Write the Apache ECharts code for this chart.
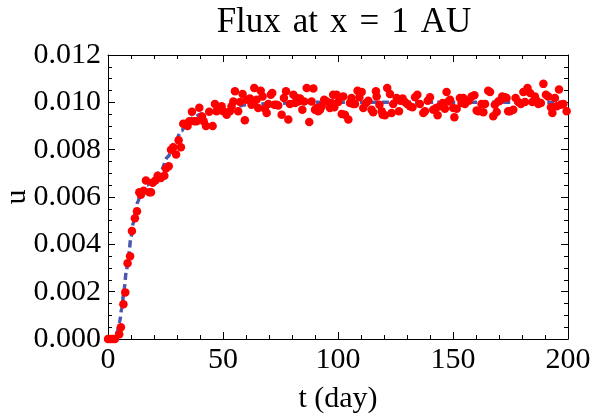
<!DOCTYPE html>
<html><head><meta charset="utf-8">
<script src="https://cdn.jsdelivr.net/npm/echarts@6/dist/echarts.min.js"></script>
<style>html,body{margin:0;padding:0;background:#fff}#c{width:603px;height:416px}</style>
</head><body><div id="c"></div>
<script>
const titleWords = ['Flux', 'at', 'x', '=', '1', 'AU'];
const xName = 't (day)';
const yName = 'u';
const xTicks = [0, 50, 100, 150, 200];
const yTicks = [0, 0.002, 0.004, 0.006, 0.008, 0.010, 0.012];

// dashed model curve
const curveT = [0, 2, 3, 4, 5, 6, 7, 8, 9, 10, 11, 12, 13, 14, 15, 17, 20, 23, 26, 29, 32, 34, 36, 38, 40, 45, 50, 55, 60, 70, 85, 200];
const curveU = [0, 0, 0.0001, 0.0003, 0.0007, 0.0013, 0.0021, 0.0029, 0.0036, 0.0043, 0.0049, 0.0054, 0.0058, 0.0061, 0.0063, 0.0065, 0.0068, 0.0071, 0.0077, 0.0083, 0.0088, 0.0091, 0.0093, 0.0094, 0.0095, 0.00958, 0.00966, 0.0098, 0.0099, 0.00994, 0.0100, 0.0100];

// measured points: rise
const riseT = [0, 1, 2, 3, 4.9, 5.6, 6.7, 7.5, 8.5, 9.6, 10.4, 11.7, 12.6, 13.6, 14.3, 15.5, 16.5, 18, 18.7, 19.4, 20.6, 21.6, 23, 24.5, 25.2, 26.4, 27.4, 28.4, 29.6, 30.7, 31.7, 32.7, 33.9, 34.6, 35.4, 36.5, 37.5, 38.5, 39.7, 40.9, 41.6, 42.6, 44, 45.5];
const riseU = [0, 0, 0, 0, 0.0002, 0.0005, 0.00147, 0.00197, 0.0032, 0.0035, 0.00456, 0.0051, 0.0054, 0.0062, 0.0061, 0.00626, 0.0067, 0.0062, 0.0062, 0.0066, 0.0067, 0.0069, 0.0068, 0.0069, 0.0072, 0.0073, 0.0080, 0.0081, 0.0078, 0.0084, 0.0081, 0.0091, 0.0091, 0.0090, 0.0092, 0.0096, 0.0092, 0.0092, 0.00977, 0.0094, 0.0092, 0.0090, 0.0096, 0.0090];

// plateau 46-99
const plateauAT = [46.5, 47.2, 49.4, 50.1, 51.6, 53.0, 53.7, 54.5, 55.2, 56.6, 57.4, 58.5, 59.5, 60.3, 61.7, 62.4, 63.6, 64.6, 65.3, 66.4, 67.2, 68.2, 69.0, 69.7, 70.8, 71.4, 72.3, 73.3, 74.0, 75.5, 76.5, 77.4, 78.4, 79.1, 80.6, 81.3, 82.0, 82.7, 83.5, 84.5, 85.3, 86.4, 87.5, 88.5, 89.3, 90.0, 90.7, 91.4, 92.2, 92.9, 94.0, 95.1, 96.5, 97.2, 97.9, 98.4];
const plateauAU = [0.00993, 0.00962, 0.00983, 0.00962, 0.00948, 0.00962, 0.00983, 0.01004, 0.01047, 0.00962, 0.01001, 0.01035, 0.00924, 0.01011, 0.01016, 0.00990, 0.01061, 0.01011, 0.00976, 0.01049, 0.01025, 0.00973, 0.00955, 0.00993, 0.01032, 0.01039, 0.00990, 0.00990, 0.00987, 0.00948, 0.01018, 0.01047, 0.00927, 0.00993, 0.01032, 0.00997, 0.01018, 0.01004, 0.01016, 0.00969, 0.01004, 0.01061, 0.00917, 0.01004, 0.01058, 0.00969, 0.00976, 0.00962, 0.00969, 0.00983, 0.01011, 0.01004, 0.00976, 0.00997, 0.01032, 0.00979];

// plateau 99-148
const plateauBT = [99.4, 100.1, 101.6, 102.3, 103.0, 104.5, 105.2, 105.9, 106.6, 107.4, 108.5, 109.3, 110.3, 111.0, 112.2, 113.2, 114.6, 115.3, 116.5, 116.8, 118.0, 119.0, 119.4, 120.4, 121.4, 122.6, 123.3, 124.0, 125.5, 126.5, 127.2, 128.1, 129.1, 130.1, 131.3, 132.4, 133.5, 134.5, 135.6, 137.1, 137.8, 139.0, 140.0, 141.4, 142.6, 143.3, 144.3, 145.5, 146.5, 147.2, 148.0];
const plateauBU = [0.01032, 0.01001, 0.00951, 0.01025, 0.00948, 0.00927, 0.00997, 0.01018, 0.00993, 0.00993, 0.01049, 0.01021, 0.01044, 0.00976, 0.00997, 0.01007, 0.00969, 0.00958, 0.01047, 0.01025, 0.00990, 0.00962, 0.00948, 0.00945, 0.01061, 0.01035, 0.00955, 0.00993, 0.01018, 0.00962, 0.01007, 0.01016, 0.01001, 0.00993, 0.00983, 0.00979, 0.01021, 0.01032, 0.00993, 0.00955, 0.00962, 0.01007, 0.01021, 0.00969, 0.00976, 0.00945, 0.00983, 0.00997, 0.00973, 0.01044, 0.01004];

// plateau 148-200
const plateauCT = [148.7, 150.1, 150.6, 151.6, 153.0, 153.7, 154.5, 155.2, 156.9, 158.1, 159.3, 160.3, 161.0, 162.4, 163.2, 163.9, 165.3, 166.1, 167.5, 168.2, 169.0, 169.7, 170.4, 171.4, 172.6, 173.3, 174.0, 174.8, 176.2, 177.2, 178.4, 179.5, 180.6, 181.3, 182.4, 183.5, 184.5, 185.6, 186.4, 187.1, 188.2, 189.3, 190.4, 191.4, 192.6, 193.2, 194.3, 195.1, 196.1, 196.9, 198.0, 199.4];
const plateauCU = [0.01011, 0.00976, 0.00937, 0.00973, 0.01018, 0.00997, 0.01018, 0.00993, 0.01007, 0.01025, 0.01030, 0.00965, 0.00962, 0.00993, 0.00958, 0.00993, 0.01049, 0.01044, 0.00941, 0.00990, 0.00959, 0.01004, 0.01007, 0.01025, 0.01021, 0.01018, 0.00962, 0.00962, 0.00969, 0.01018, 0.01001, 0.00993, 0.01044, 0.01001, 0.01061, 0.01039, 0.01001, 0.01025, 0.01007, 0.00993, 0.00997, 0.01078, 0.01032, 0.01025, 0.00979, 0.00955, 0.01018, 0.00983, 0.01054, 0.00990, 0.00993, 0.00962];

const zip = (a, b) => a.map((v, i) => [v, b[i]]);
const points = [].concat(zip(riseT, riseU), zip(plateauAT, plateauAU), zip(plateauBT, plateauBU), zip(plateauCT, plateauCU));
const curve = zip(curveT, curveU);

const FONT = 'Liberation Serif';
const axisCommon = {
  type: 'value',
  splitLine: { show: false },
  axisLine: { show: true, onZero: false, lineStyle: { color: '#000', width: 1 } },
  axisTick: { show: true, inside: true, length: 7, lineStyle: { color: '#000', width: 1 } },
  minorTick: { show: true, length: 4, lineStyle: { color: '#000', width: 1 } },
  minorSplitLine: { show: false }
};
function xAx(pos, labels) {
  return Object.assign({}, axisCommon, {
    position: pos, min: xTicks[0], max: xTicks[xTicks.length - 1], interval: xTicks[1] - xTicks[0],
    minorTick: Object.assign({}, axisCommon.minorTick, { splitNumber: 5 }),
    axisLabel: { show: labels, fontFamily: FONT, fontSize: 30, color: '#000', margin: 6 },
    name: labels ? xName : '', nameLocation: 'middle', nameGap: 45, nameMoveOverlap: false,
    nameTextStyle: { fontFamily: FONT, fontSize: 30, color: '#000' }
  });
}
function yAx(pos, labels) {
  return Object.assign({}, axisCommon, {
    position: pos, min: yTicks[0], max: yTicks[yTicks.length - 1], interval: yTicks[1] - yTicks[0],
    minorTick: Object.assign({}, axisCommon.minorTick, { splitNumber: 4 }),
    axisLabel: { show: labels, fontFamily: FONT, fontSize: 30, color: '#000', margin: 7, formatter: v => v.toFixed(3) },
    name: labels ? yName : '', nameLocation: 'middle', nameGap: 76, nameRotate: 90, nameMoveOverlap: false,
    nameTextStyle: { fontFamily: FONT, fontSize: 30, color: '#000' }
  });
}

const titleRich = titleWords.map(w => '{w|' + w + '}').join('{s| }');

const chart = echarts.init(document.getElementById('c'), null, { renderer: 'canvas' });
chart.setOption({
  animation: false,
  backgroundColor: '#fff',
  title: { text: titleRich, left: 339, textAlign: 'center', top: 0,
    textStyle: { fontFamily: FONT, fontSize: 35, fontWeight: 'normal', color: '#000',
      rich: { w: { fontFamily: FONT, fontSize: 35, color: '#000' }, s: { fontFamily: FONT, fontSize: 35, width: 12 } } } },
  grid: { left: 108, top: 55, width: 460, height: 284, containLabel: false, outerBoundsMode: 'none' },
  xAxis: [xAx('bottom', true), xAx('top', false)],
  yAxis: [yAx('left', true), yAx('right', false)],
  series: [
    { type: 'line', data: curve, showSymbol: false, smooth: 0.3, smoothMonotone: 'x',
      lineStyle: { color: '#4a58b0', width: 3.5, type: [7, 4] }, z: 2 },
    { type: 'scatter', data: points, symbol: 'circle', symbolSize: 8.5,
      itemStyle: { color: '#ff0000', opacity: 1 }, z: 3 }
  ]
});
</script>
</body></html>
